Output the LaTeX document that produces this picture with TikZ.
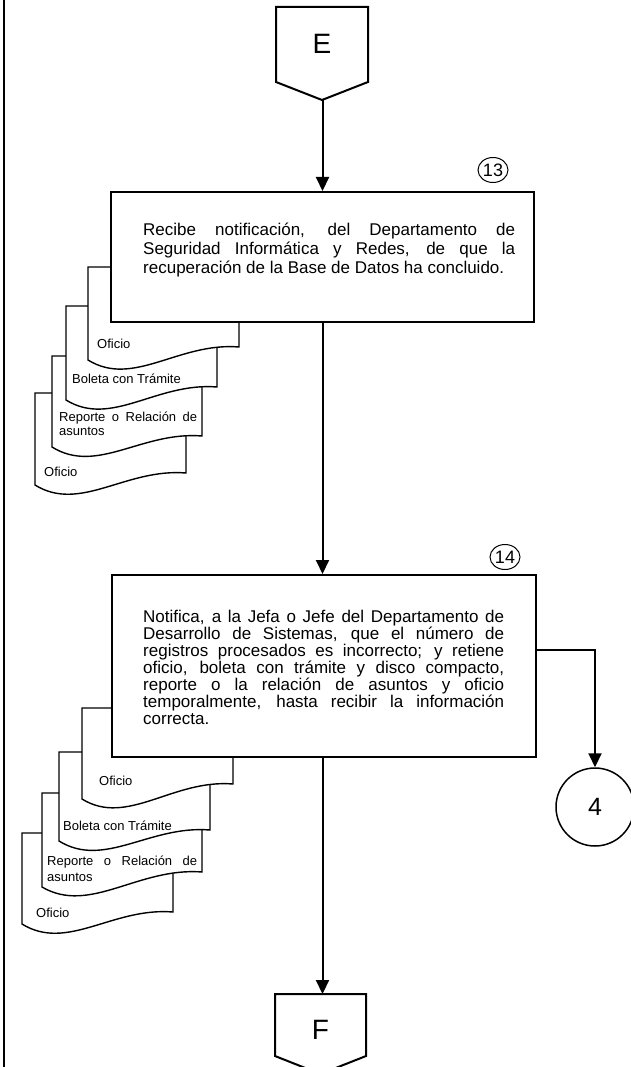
\documentclass[tikz,border=0pt]{standalone}
\usepackage{fontspec}
\setmainfont{Liberation Sans}
\usetikzlibrary{arrows.meta,shapes.geometric}
\setlength{\parindent}{0pt}
\tolerance=9999
\emergencystretch=20pt
\hyphenpenalty=10000
\exhyphenpenalty=10000

% document symbol: left, top, right, bottom-left y, bottom-right y
\newcommand{\docshape}[5]{%
  \draw[docline] (#1,#2) -- (#3,#2) -- (#3,#5)
    .. controls ({#1+0.6*(#3-#1)},{#5-5}) and ({#1+0.3*(#3-#1)},{#4+28}) .. (#1,#4) -- cycle;}

\begin{document}
\begin{tikzpicture}[x=1pt,y=-1pt,
  docline/.style={draw,line width=1.4pt,fill=white},
  flow/.style={line width=2pt,-{Triangle[length=14pt,width=13pt]}},
  proc/.style={draw,line width=2pt,fill=white,rectangle,inner sep=0pt},
  connector/.style={draw,line width=2pt,fill=white},
  doclabel/.style={inner sep=0pt,anchor=base west,font=\fontsize{13}{14}\selectfont},
  doclabeltwo/.style={inner sep=0pt,anchor=north west,align=justify,font=\fontsize{13}{14}\selectfont},
  steptext/.style={inner sep=0pt,anchor=north west,align=justify},
  stepnum/.style={draw,ellipse,line width=1pt,minimum width=30pt,minimum height=25pt,inner sep=0pt,font=\fontsize{18}{18}\selectfont},
  bigletter/.style={inner sep=0pt,font=\fontsize{28}{28}\selectfont}
]
\useasboundingbox (0,0) rectangle (630,1067);

% left margin rule
\draw[line width=1.6pt] (4,0) -- (4,1067);

% off-page connector E
\draw[connector] (276,7) -- (368,7) -- (368,82) -- (322,100) -- (276,82) -- cycle;
\node[bigletter] (E) at (322,44) {E};
\coordinate (Etip) at (322.5,100);

% ---- step 13: documents (back to front) ----
\docshape{35}{393}{186}{485}{473}
\node[doclabel] (d13d) at (44,476) {Oficio};
\docshape{52}{356}{202}{447}{436}
\node[doclabeltwo,text width=138pt] (d13c) at (59,410) {\rule{0pt}{11pt}Reporte o Relación de\linebreak asuntos};
\docshape{66}{306}{217}{400}{387}
\node[doclabel] (d13b) at (72,383) {Boleta con Trámite};
\docshape{88}{267}{239}{360}{347}
\node[doclabel] (d13a) at (97,348) {Oficio};

\node[proc,minimum width=423pt,minimum height=130pt] (b13) at (322.5,257) {};
\node[steptext,text width=372pt,font=\fontsize{17}{19.2}\selectfont] (t13) at (143,221)
  {\rule{0pt}{14pt}Recibe notificación, del Departamento de\linebreak
   Seguridad Informática y Redes, de que la\linebreak
   recuperación de la Base de Datos ha concluido.};
\node[stepnum] (n13) at (493,170) {13};

% ---- step 14: documents (back to front) ----
\docshape{22}{833}{173}{924}{912}
\node[doclabel] (d14d) at (36,917) {Oficio};
\docshape{42}{793}{202}{887}{872}
\node[doclabeltwo,text width=150pt,font=\fontsize{13}{16}\selectfont] (d14c) at (47,854) {\rule{0pt}{11pt}Reporte o Relación de\linebreak asuntos};
\docshape{59}{752}{210}{841}{830}
\node[doclabel] (d14b) at (63,830) {Boleta con Trámite};
\docshape{82}{708}{233}{799}{784}
\node[doclabel] (d14a) at (99,785) {Oficio};

\node[proc,minimum width=424pt,minimum height=182pt] (b14) at (324,666) {};
\node[steptext,text width=361pt,font=\fontsize{17}{17.1}\selectfont] (t14) at (143,608)
  {\rule{0pt}{14pt}Notifica, a la Jefa o Jefe del Departamento de\linebreak
   Desarrollo de Sistemas, que el número de\linebreak
   registros procesados es incorrecto; y retiene\linebreak
   oficio, boleta con trámite y disco compacto,\linebreak
   reporte o la relación de asuntos y oficio\linebreak
   temporalmente, hasta recibir la información\linebreak
   correcta.};
\node[stepnum] (n14) at (505,557) {14};

% on-page connector 4
\node[draw,circle,line width=1.5pt,minimum size=78pt,inner sep=0pt,font=\fontsize{25}{25}\selectfont] (c4) at (595,807) {4};

% off-page connector F
\draw[connector] (275,994) -- (366,994) -- (366,1056) -- (320.5,1074) -- (275,1056) -- cycle;
\node[bigletter] (F) at (320.5,1030) {F};
\coordinate (Ftop) at (322.5,994);
\coordinate (b14out) at (b14.east |- 0,650);

% flow lines
\draw[flow] (Etip) -- (Etip |- b13.north);
\draw[flow] (b13.south) -- (b13.south |- b14.north);
\draw[flow] (b14.south -| Ftop) -- (Ftop);
\draw[flow] (b14out) -| (c4.north);
\end{tikzpicture}
\end{document}
